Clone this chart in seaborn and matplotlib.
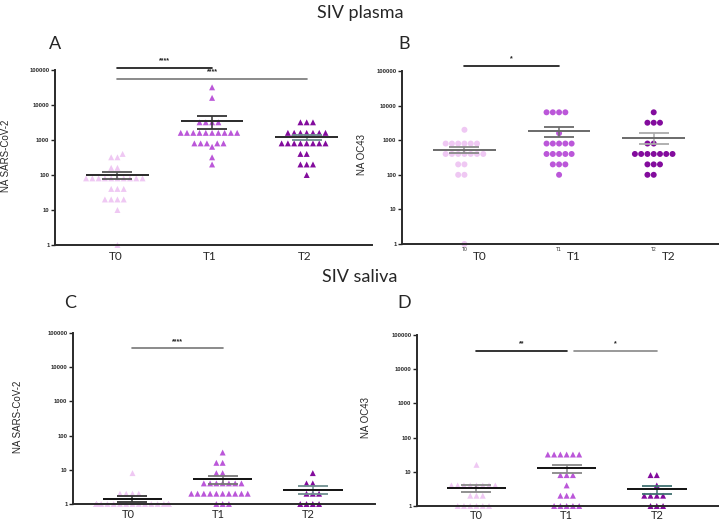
import numpy as np
import pandas as pd
import seaborn as sns
import matplotlib.pyplot as plt

# neutralizing antibody titres
times = ['T0', 'T1', 'T2']
tick_vals = [1, 10, 100, 1000, 10000, 100000]
tick_labels = ['1', '10', '100', '1000', '10000', '100000']
colors = {'T0': '#EFC8F3', 'T1': '#BB57D9', 'T2': '#830C9D'}

# A: plasma, SARS-CoV-2
a_t0 = [400, 320, 320, 160, 160, 80, 80, 80, 80, 80, 80, 80, 80, 80, 80,
        40, 40, 40, 20, 20, 20, 20, 10, 1]
a_t1 = [32000, 16000, 3200, 3200, 3200, 3200, 1600, 1600, 1600, 1600, 1600,
        1600, 1600, 1600, 1600, 1600, 800, 800, 800, 800, 800, 640, 320, 200]
a_t2 = [3200, 3200, 3200, 1600, 1600, 1600, 1600, 1600, 1600, 1600, 800, 800,
        800, 800, 800, 800, 800, 800, 400, 400, 200, 200, 200, 100]
# B: plasma, OC43
b_t0 = [2000, 800, 800, 800, 800, 800, 800, 400, 400, 400, 400, 400, 400, 400,
        200, 200, 100, 100, 1]
b_t1 = [6400, 6400, 6400, 6400, 1600, 800, 800, 800, 800, 800, 400, 400, 400,
        400, 400, 200, 200, 200, 100]
b_t2 = [6400, 3200, 3200, 3200, 800, 800, 400, 400, 400, 400, 400, 400, 400,
        200, 200, 200, 100, 100]
# C: saliva, SARS-CoV-2
c_t0 = [8, 2, 2, 2, 2, 1, 1, 1, 1, 1, 1, 1, 1, 1, 1, 1, 1, 1, 1, 1, 1, 1, 1,
        1, 1]
c_t1 = [32, 16, 16, 8, 8, 4, 4, 4, 4, 4, 4, 4, 2, 2, 2, 2, 2, 2, 2, 2, 2, 2,
        1, 1, 1]
c_t2 = [8, 4, 4, 2, 2, 2, 1, 1, 1, 1]
# D: saliva, OC43
d_t0 = [16, 4, 4, 4, 4, 4, 4, 4, 4, 2, 2, 2, 1, 1, 1, 1, 1, 1]
d_t1 = [32, 32, 32, 32, 32, 32, 8, 8, 8, 4, 2, 2, 2, 1, 1, 1, 1, 1]
d_t2 = [8, 8, 4, 2, 2, 2, 2, 1, 1, 1]

sns.set_style('white')
plt.rcParams['font.family'] = ['Liberation Sans', 'DejaVu Sans']

fig = plt.figure(figsize=(7.19, 5.23), dpi=100)
W, H = 719, 523


def px_axes(l, t, r, b):
    return fig.add_axes([l / W, 1 - b / H, (r - l) / W, (b - t) / H])


def panel(ax, groups, marker, ylabel, mean_col, sem_cols, label_dx=0.0,
          small_ticks=False, xpad=4.5, xfs=8.5):
    df = pd.DataFrame({
        'time': np.repeat(times, [len(g) for g in groups]),
        'value': np.concatenate(groups),
    })
    sns.swarmplot(data=df, x='time', y='value', hue='time', palette=colors,
                  marker=marker, size=4.3, linewidth=0, log_scale=True,
                  legend=False, warn_thresh=1, ax=ax, zorder=1)
    for coll in ax.collections:
        coll.set_clip_on(False)
    st = df.groupby('time', sort=False)['value'].agg(['mean', 'sem'])
    x = np.arange(len(st))
    for i in x:
        ax.errorbar(i, st['mean'].iloc[i], yerr=st['sem'].iloc[i], fmt='none',
                    ecolor=sem_cols[i], elinewidth=1.1, capsize=11, capthick=1.3,
                    zorder=4)
    ax.hlines(st['mean'], x - 0.33, x + 0.33, color=mean_col, lw=1.4, zorder=5)

    ax.set_ylim(1, 100000)
    ax.set_xlim(-0.66, 2.69)
    ax.set_yticks(tick_vals, tick_labels)
    ax.minorticks_off()
    ax.tick_params(axis='y', labelsize=4.2, length=3, width=1, direction='out',
                   left=True, pad=1, color='#222222')
    for lab in ax.get_yticklabels():
        lab.set_fontweight('bold')
    ax.set_ylabel(ylabel, fontsize=7)
    ax.set_xlabel('')
    for s in ['top', 'right']:
        ax.spines[s].set_visible(False)
    for s in ['left', 'bottom']:
        ax.spines[s].set_linewidth(1.4)
        ax.spines[s].set_color('#2a2a2a')
        ax.spines[s].set_zorder(3)
    if small_ticks:
        ax.set_xticks(x, times)
        ax.tick_params(axis='x', length=0, labelsize=3.5, pad=2)
        for i, t in enumerate(times):
            ax.text(i + label_dx, -0.075, t, transform=ax.get_xaxis_transform(),
                    ha='center', va='center', fontsize=xfs, family='Lato')
    else:
        ax.set_xticks(x + label_dx, times)
        ax.tick_params(axis='x', length=0, labelsize=xfs, pad=xpad)
        for lab in ax.get_xticklabels():
            lab.set_family('Lato')


def sig(ax, x0, x1, y, text, color='#222222', dy=1.25):
    ax.plot([x0, x1], [y, y], color=color, lw=1.2, clip_on=False)
    ax.text((x0 + x1) / 2, y * dy, text, ha='center', va='bottom', fontsize=5,
            fontweight='bold', color='#222222', clip_on=False)


axA = px_axes(55, 70, 372, 245)
panel(axA, [a_t0, a_t1, a_t2], '^', 'NA SARS-CoV-2', '#2a2a2a',
      ['#555555', '#333333', '#6f8f8f'], label_dx=-0.02)
sig(axA, 0, 1, 1.14e5, '****', color='#111111')
sig(axA, 0, 2, 5.5e4, '****', color='#777777')

axB = px_axes(402, 71, 719, 244)
panel(axB, [b_t0, b_t1, b_t2], 'o', 'NA OC43', '#6a6a6a',
      ['#8a8a8a', '#6a6a6a', '#aaaaaa'], label_dx=0.16, small_ticks=True)
sig(axB, 0, 1, 1.39e5, '*', color='#111111')

axC = px_axes(73, 333, 375, 504)
panel(axC, [c_t0, c_t1, c_t2], '^', 'NA SARS-CoV-2', '#111111',
      ['#333333', '#777777', '#6f8f8f'], label_dx=-0.05, xpad=3.5, xfs=8)
sig(axC, 0, 1, 3.6e4, '****', color='#777777')

axD = px_axes(417, 335, 719, 506)
panel(axD, [d_t0, d_t1, d_t2], '^', 'NA OC43', '#111111',
      ['#888888', '#888888', '#3f6f6f'], label_dx=0.0, xpad=3, xfs=8)
sig(axD, 0, 1, 3.4e4, '**', color='#111111')
sig(axD, 1.08, 2.0, 3.4e4, '*', color='#888888')

axA.yaxis.set_label_coords(-0.14, 0.51)
axB.yaxis.set_label_coords(-0.11, 0.52)
axC.yaxis.set_label_coords(-0.165, 0.51)
axD.yaxis.set_label_coords(-0.152, 0.52)

fig.text(360 / W, 1 - 13 / H, 'SIV plasma', ha='center', va='center',
         fontsize=13, family='Lato')
fig.text(360 / W, 1 - 277 / H, 'SIV saliva', ha='center', va='center',
         fontsize=13, family='Lato')
for lbl, x, y in [('A', 49, 44), ('B', 398, 44), ('C', 64, 303), ('D', 397, 303)]:
    fig.text(x / W, 1 - y / H, lbl, ha='left', va='center', fontsize=13,
             family='Lato')

fig.savefig('out.png', dpi=100)
